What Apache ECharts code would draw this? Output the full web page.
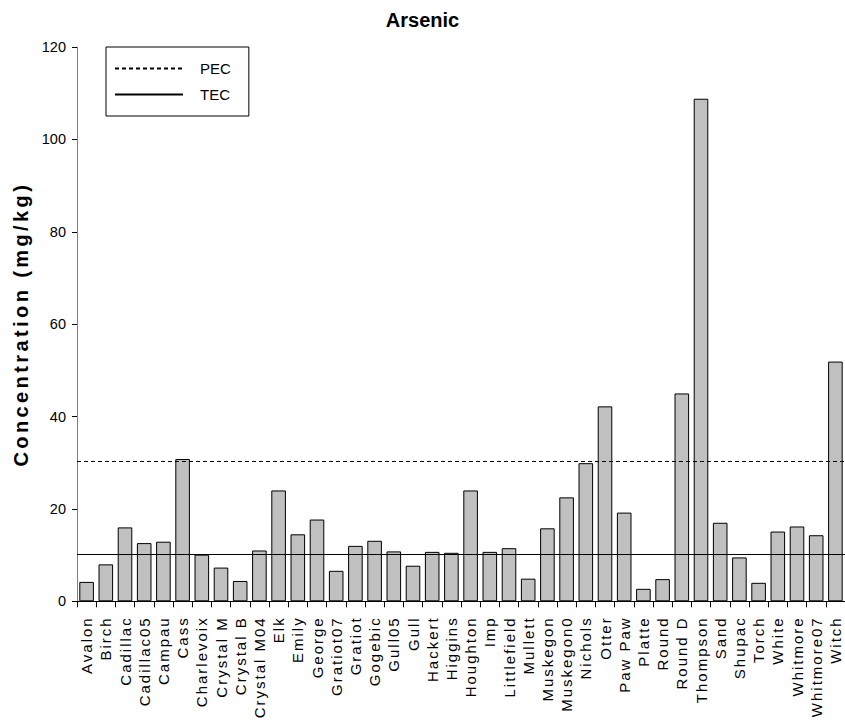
<!DOCTYPE html>
<html>
<head>
<meta charset="utf-8">
<script src="https://cdn.jsdelivr.net/npm/echarts@6/dist/echarts.min.js"></script>
<style>
  html, body { margin: 0; padding: 0; background: #fff; }
  #chart { width: 845px; height: 726px; }
  #chart text[style*="xlab"] { letter-spacing: 2px; }
  #chart text[style*="yname"] { letter-spacing: 3.4px; }
</style>
</head>
<body>
<div id="chart"></div>
<script>
const categories = ["Avalon","Birch","Cadillac","Cadillac05","Campau","Cass","Charlevoix","Crystal M","Crystal B","Crystal M04","Elk","Emily","George","Gratiot07","Gratiot","Gogebic","Gull05","Gull","Hackert","Higgins","Houghton","Imp","Littlefield","Mullett","Muskegon","Muskegon0","Nichols","Otter","Paw Paw","Platte","Round","Round D","Thompson","Sand","Shupac","Torch","White","Whitmore","Whitmore07","Witch"];
const arsenic = [4.2,8.0,16.0,12.6,12.9,30.8,10.1,7.3,4.4,11.0,24.0,14.5,17.7,6.6,12.0,13.1,10.8,7.7,10.7,10.5,24.0,10.7,11.5,4.9,15.8,22.5,29.9,42.2,19.2,2.7,4.8,45.0,108.8,17.0,9.5,4.0,15.1,16.2,14.3,51.9];
const PEC = 30.3;
const TEC = 10.2;
const yTicks = { min: 0, max: 120, interval: 20 };

const sans = "'Liberation Sans', Arial, sans-serif";

const chart = echarts.init(document.getElementById('chart'), null, { renderer: 'svg' });
chart.setOption({
  animation: false,
  backgroundColor: '#fff',
  title: {
    text: 'Arsenic',
    left: 'center',
    top: 5,
    textStyle: { fontFamily: sans, fontWeight: 'bold', fontSize: 20, color: '#000' }
  },
  legend: {
    orient: 'vertical',
    left: 106,
    top: 47,
    data: ['PEC', 'TEC'],
    itemWidth: 68,
    itemHeight: 14,
    itemGap: 11,
    padding: [14, 18, 14, 8],
    borderColor: '#000',
    borderWidth: 1,
    itemStyle: { opacity: 0 },
    textStyle: { fontFamily: sans, fontSize: 15, color: '#000', padding: [0, 0, 0, 12], verticalAlign: 'top', lineHeight: 9 }
  },
  grid: { left: 77, top: 47, width: 769, height: 554.3 },
  xAxis: {
    type: 'category',
    data: categories,
    axisLine: { lineStyle: { color: '#000', width: 1 } },
    axisTick: { show: true, interval: 0, alignWithLabel: false, length: 6, lineStyle: { color: '#000' } },
    axisLabel: {
      interval: 0,
      rotate: 90,
      margin: 15,
      fontFamily: "'Liberation Sans', xlab",
      fontSize: 15,
      color: '#000'
    },
    splitLine: { show: false }
  },
  yAxis: {
    type: 'value',
    min: yTicks.min,
    max: yTicks.max,
    interval: yTicks.interval,
    name: 'Concentration (mg/kg)',
    nameLocation: 'middle',
    nameGap: 41,
    nameRotate: 90,
    nameTextStyle: { fontFamily: "'Liberation Sans', yname", fontWeight: 'bold', fontSize: 20, color: '#000' },
    axisLine: { show: true, lineStyle: { color: '#808080', width: 1 } },
    axisTick: { show: true, length: 5, lineStyle: { color: '#000' } },
    axisLabel: { margin: 11, fontFamily: sans, fontSize: 14.5, color: '#000' },
    splitLine: { show: false }
  },
  series: [
    {
      type: 'bar',
      name: 'Arsenic',
      data: arsenic,
      barCategoryGap: '24%',
      itemStyle: { color: '#c0c0c0', borderColor: '#000', borderWidth: 1 },
      silent: true
    },
    {
      type: 'line',
      name: 'PEC',
      data: [],
      symbol: 'none',
      color: '#000',
      lineStyle: { color: '#000', width: 1, type: [4, 3] },
      markLine: {
        silent: true,
        symbol: 'none',
        label: { show: false },
        lineStyle: { color: '#000', width: 1, type: [4, 3] },
        data: [{ yAxis: PEC }]
      }
    },
    {
      type: 'line',
      name: 'TEC',
      data: [],
      symbol: 'none',
      color: '#000',
      lineStyle: { color: '#000', width: 1, type: 'solid' },
      markLine: {
        silent: true,
        symbol: 'none',
        label: { show: false },
        lineStyle: { color: '#000', width: 1, type: 'solid' },
        data: [{ yAxis: TEC }]
      }
    }
  ]
});
</script>
</body>
</html>
